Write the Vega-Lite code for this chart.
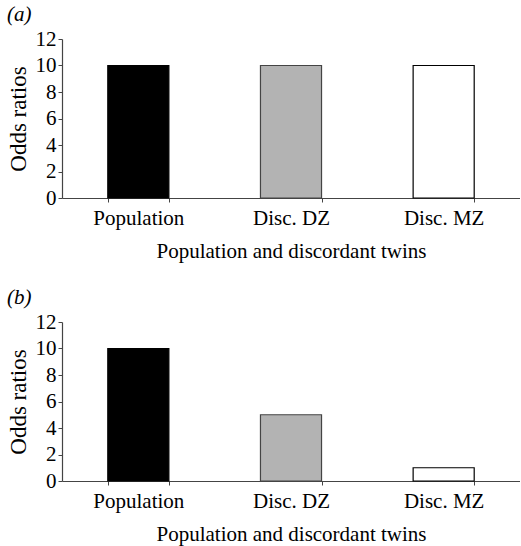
{
  "$schema": "https://vega.github.io/schema/vega-lite/v6.json",
  "padding": {"left": 7, "top": 4, "right": 0, "bottom": 2},
  "background": "white",
  "datasets": {
    "a": [
      {"group": "Population", "odds": 10},
      {"group": "Disc. DZ", "odds": 10},
      {"group": "Disc. MZ", "odds": 10}
    ],
    "b": [
      {"group": "Population", "odds": 10},
      {"group": "Disc. DZ", "odds": 5},
      {"group": "Disc. MZ", "odds": 1}
    ]
  },
  "spacing": 26,
  "vconcat": [
    {
      "title": {"text": "(a)"},
      "data": {"name": "a"},
      "width": 458,
      "height": 159,
      "mark": {"type": "bar", "strokeWidth": 1.2},
      "encoding": {
        "x": {"field": "group", "type": "nominal", "sort": ["Population", "Disc. DZ", "Disc. MZ"],
              "scale": {"paddingInner": 0.6, "paddingOuter": 0.3},
              "title": "Population and discordant twins"},
        "y": {"field": "odds", "type": "quantitative", "scale": {"domain": [0, 12]}, "title": "Odds ratios"},
        "fill": {"field": "group", "type": "nominal", "legend": null,
                 "scale": {"domain": ["Population", "Disc. DZ", "Disc. MZ"], "range": ["#000000", "#b3b3b3", "#ffffff"]}},
        "stroke": {"field": "group", "type": "nominal", "legend": null,
                   "scale": {"domain": ["Population", "Disc. DZ", "Disc. MZ"], "range": ["#000000", "#444444", "#000000"]}}
      }
    },
    {
      "title": {"text": "(b)"},
      "data": {"name": "b"},
      "width": 458,
      "height": 159,
      "mark": {"type": "bar", "strokeWidth": 1.2},
      "encoding": {
        "x": {"field": "group", "type": "nominal", "sort": ["Population", "Disc. DZ", "Disc. MZ"],
              "scale": {"paddingInner": 0.6, "paddingOuter": 0.3},
              "title": "Population and discordant twins"},
        "y": {"field": "odds", "type": "quantitative", "scale": {"domain": [0, 12]}, "title": "Odds ratios"},
        "fill": {"field": "group", "type": "nominal", "legend": null,
                 "scale": {"domain": ["Population", "Disc. DZ", "Disc. MZ"], "range": ["#000000", "#b3b3b3", "#ffffff"]}},
        "stroke": {"field": "group", "type": "nominal", "legend": null,
                   "scale": {"domain": ["Population", "Disc. DZ", "Disc. MZ"], "range": ["#000000", "#444444", "#000000"]}}
      }
    }
  ],
  "resolve": {"scale": {"fill": "independent", "stroke": "independent"}},
  "config": {
    "font": "Liberation Serif",
    "view": {"stroke": null},
    "title": {"anchor": "start", "frame": "bounds", "fontSize": 21, "fontWeight": "normal", "fontStyle": "italic", "color": "#000", "offset": 3},
    "axis": {
      "labelFont": "Liberation Serif", "titleFont": "Liberation Serif",
      "labelFontSize": 21, "titleFontSize": 21, "titleFontWeight": "normal",
      "labelColor": "#000", "titleColor": "#000",
      "domainColor": "#444", "tickColor": "#444", "domainWidth": 1.2, "tickWidth": 1,
      "grid": false, "tickSize": 4
    },
    "axisY": {"values": [0, 2, 4, 6, 8, 10, 12], "labelPadding": 2, "titlePadding": 5, "titleFontSize": 23},
    "axisX": {"labelAngle": 0, "tickBand": "extent", "labelPadding": 5, "titlePadding": 12}
  }
}
